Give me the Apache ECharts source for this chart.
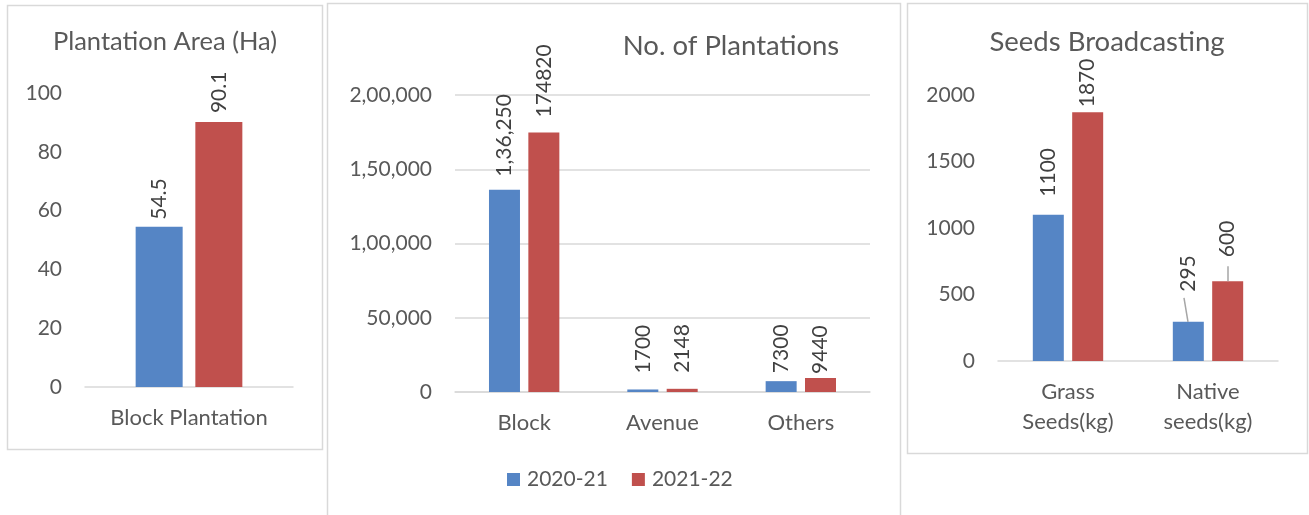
<!DOCTYPE html>
<html><head><meta charset="utf-8">
<script src="https://cdn.jsdelivr.net/npm/echarts@6/dist/echarts.min.js"></script>
<style>html,body{margin:0;padding:0;background:#fff}#c{width:1309px;height:515px}</style>
</head><body><div id="c"></div>
<script>
// ---- data ----
const seriesNames = ['2020-21', '2021-22'];
const areaCats = ['Block Plantation'];
const area2020 = [54.5];
const area2021 = [90.1];
const areaTicks = ['0', '20', '40', '60', '80', '100'];

const plantCats = ['Block', 'Avenue', 'Others'];
const plant2020 = [136250, 1700, 7300];
const plant2021 = [174820, 2148, 9440];
const plantLabels2020 = ['1,36,250', '1700', '7300'];
const plantLabels2021 = ['174820', '2148', '9440'];
const plantTicks = ['0', '50,000', '1,00,000', '1,50,000', '2,00,000'];

const seedCats = ['Grass\nSeeds(kg)', 'Native\nseeds(kg)'];
const seed2020 = [1100, 295];
const seed2021 = [1870, 600];
const seedTicks = ['0', '500', '1000', '1500', '2000'];

// ---- style (label placement, not data) ----
const FONT = 'Lato';
const BLUE = '#5585c5', RED = '#c0504d';
const TXT = '#595959', LBL = '#404040', LINE = '#d9d9d9', LEAD = '#a6a6a6';
const areaDist2020 = [7], areaDist2021 = [9];
const plantDist2020 = [13, 16, 8], plantDist2021 = [15, 16, 4];
const seedDist2020 = [18, 34], seedDist2021 = [5, 24];
const seedShift2020 = [0, -4], seedShift2021 = [0, 0];
const seedLeader2020 = [null, 24], seedLeader2021 = [null, 15]; // leader line length
const BAR_OFF = 20; // half of bar width + gap

const chart = echarts.init(document.getElementById('c'), null, {renderer: 'canvas'});

function titleOf(text, x, yCenter, fs) {
  return {text, left: x - 5, top: yCenter - 5 - fs / 2 - 1, textAlign: 'center', padding: 5,
    textStyle: {fontFamily: FONT, fontSize: fs, fontWeight: 'normal', color: TXT}};
}
function xAx(gi, cats) {
  return {type: 'category', gridIndex: gi, data: cats,
    axisLine: {lineStyle: {color: LINE, width: 1.5}}, axisTick: {show: false},
    axisLabel: {fontFamily: FONT, fontSize: 22, color: TXT, margin: 16, lineHeight: 30}};
}
function yAx(gi, max, interval, ticks, grid) {
  return {type: 'value', gridIndex: gi, min: 0, max, interval,
    axisLine: {show: false}, axisTick: {show: false},
    splitLine: {show: grid, lineStyle: {color: LINE, width: 1.5}},
    axisLabel: {fontFamily: FONT, fontSize: 21, color: TXT, margin: 23,
      formatter: v => ticks[Math.round(v / interval)]}};
}
function bar(name, gi, values, color, width, labels, dists, shifts) {
  return {type: 'bar', name, xAxisIndex: gi, yAxisIndex: gi, barWidth: width, barGap: '27%',
    itemStyle: {color},
    data: values.map((v, i) => ({value: v,
      label: {distance: dists[i], offset: [shifts ? shifts[i] : 0, 0]}})),
    label: {show: true, position: 'top', rotate: 90, align: 'left', verticalAlign: 'middle',
      fontFamily: FONT, fontSize: 21, color: LBL,
      formatter: p => labels ? labels[p.dataIndex] : String(p.value)}};
}
function leaders(values, lens, sign, shifts) {
  return {type: 'custom', xAxisIndex: 2, yAxisIndex: 2, silent: true, z: 3,
    data: values.map((v, i) => [i, v]).filter((d, i) => lens[i] != null),
    renderItem: (params, api) => {
      const i = api.value(0);
      const c = api.coord([i, api.value(1)]);
      const x = c[0] + sign * BAR_OFF;
      return {type: 'line', shape: {x1: x, y1: c[1], x2: x + shifts[i], y2: c[1] - lens[i]},
        style: {stroke: LEAD, lineWidth: 1.5}};
    }};
}

chart.setOption({
  animation: false,
  title: [
    titleOf('Plantation Area (Ha)', 165, 43, 25.5),
    titleOf('No. of Plantations', 731, 47, 27.5),
    titleOf('Seeds Broadcasting', 1107, 43, 27.5)
  ],
  legend: {left: 502, top: 464, itemWidth: 13, itemHeight: 13, itemGap: 24,
    data: seriesNames.map(n => ({name: n, icon: 'rect'})),
    textStyle: {fontFamily: FONT, fontSize: 21, color: TXT, padding: [0, 0, 0, 2]}},
  graphic: [
    {type: 'rect', shape: {x: 7.5, y: 5.5, width: 315, height: 444}, style: {fill: null, stroke: LINE, lineWidth: 1.5}},
    {type: 'rect', shape: {x: 327.5, y: 3.5, width: 573, height: 520}, style: {fill: null, stroke: LINE, lineWidth: 1.5}},
    {type: 'rect', shape: {x: 907.5, y: 3.5, width: 400, height: 450}, style: {fill: null, stroke: LINE, lineWidth: 1.5}}
  ],
  grid: [
    {left: 85, right: 1309 - 293, top: 93, bottom: 515 - 387},
    {left: 455, right: 1309 - 870, top: 95, bottom: 515 - 392},
    {left: 998, right: 1309 - 1278, top: 95, bottom: 515 - 361}
  ],
  xAxis: [xAx(0, areaCats), xAx(1, plantCats), xAx(2, seedCats)],
  yAxis: [
    yAx(0, 100, 20, areaTicks, false),
    yAx(1, 200000, 50000, plantTicks, true),
    yAx(2, 2000, 500, seedTicks, false)
  ],
  series: [
    bar(seriesNames[0], 0, area2020, BLUE, 47, null, areaDist2020),
    bar(seriesNames[1], 0, area2021, RED, 47, null, areaDist2021),
    bar(seriesNames[0], 1, plant2020, BLUE, 31, plantLabels2020, plantDist2020),
    bar(seriesNames[1], 1, plant2021, RED, 31, plantLabels2021, plantDist2021),
    bar(seriesNames[0], 2, seed2020, BLUE, 31, null, seedDist2020, seedShift2020),
    bar(seriesNames[1], 2, seed2021, RED, 31, null, seedDist2021, seedShift2021),
    leaders(seed2020, seedLeader2020, -1, seedShift2020),
    leaders(seed2021, seedLeader2021, 1, seedShift2021)
  ]
});
</script></body></html>
